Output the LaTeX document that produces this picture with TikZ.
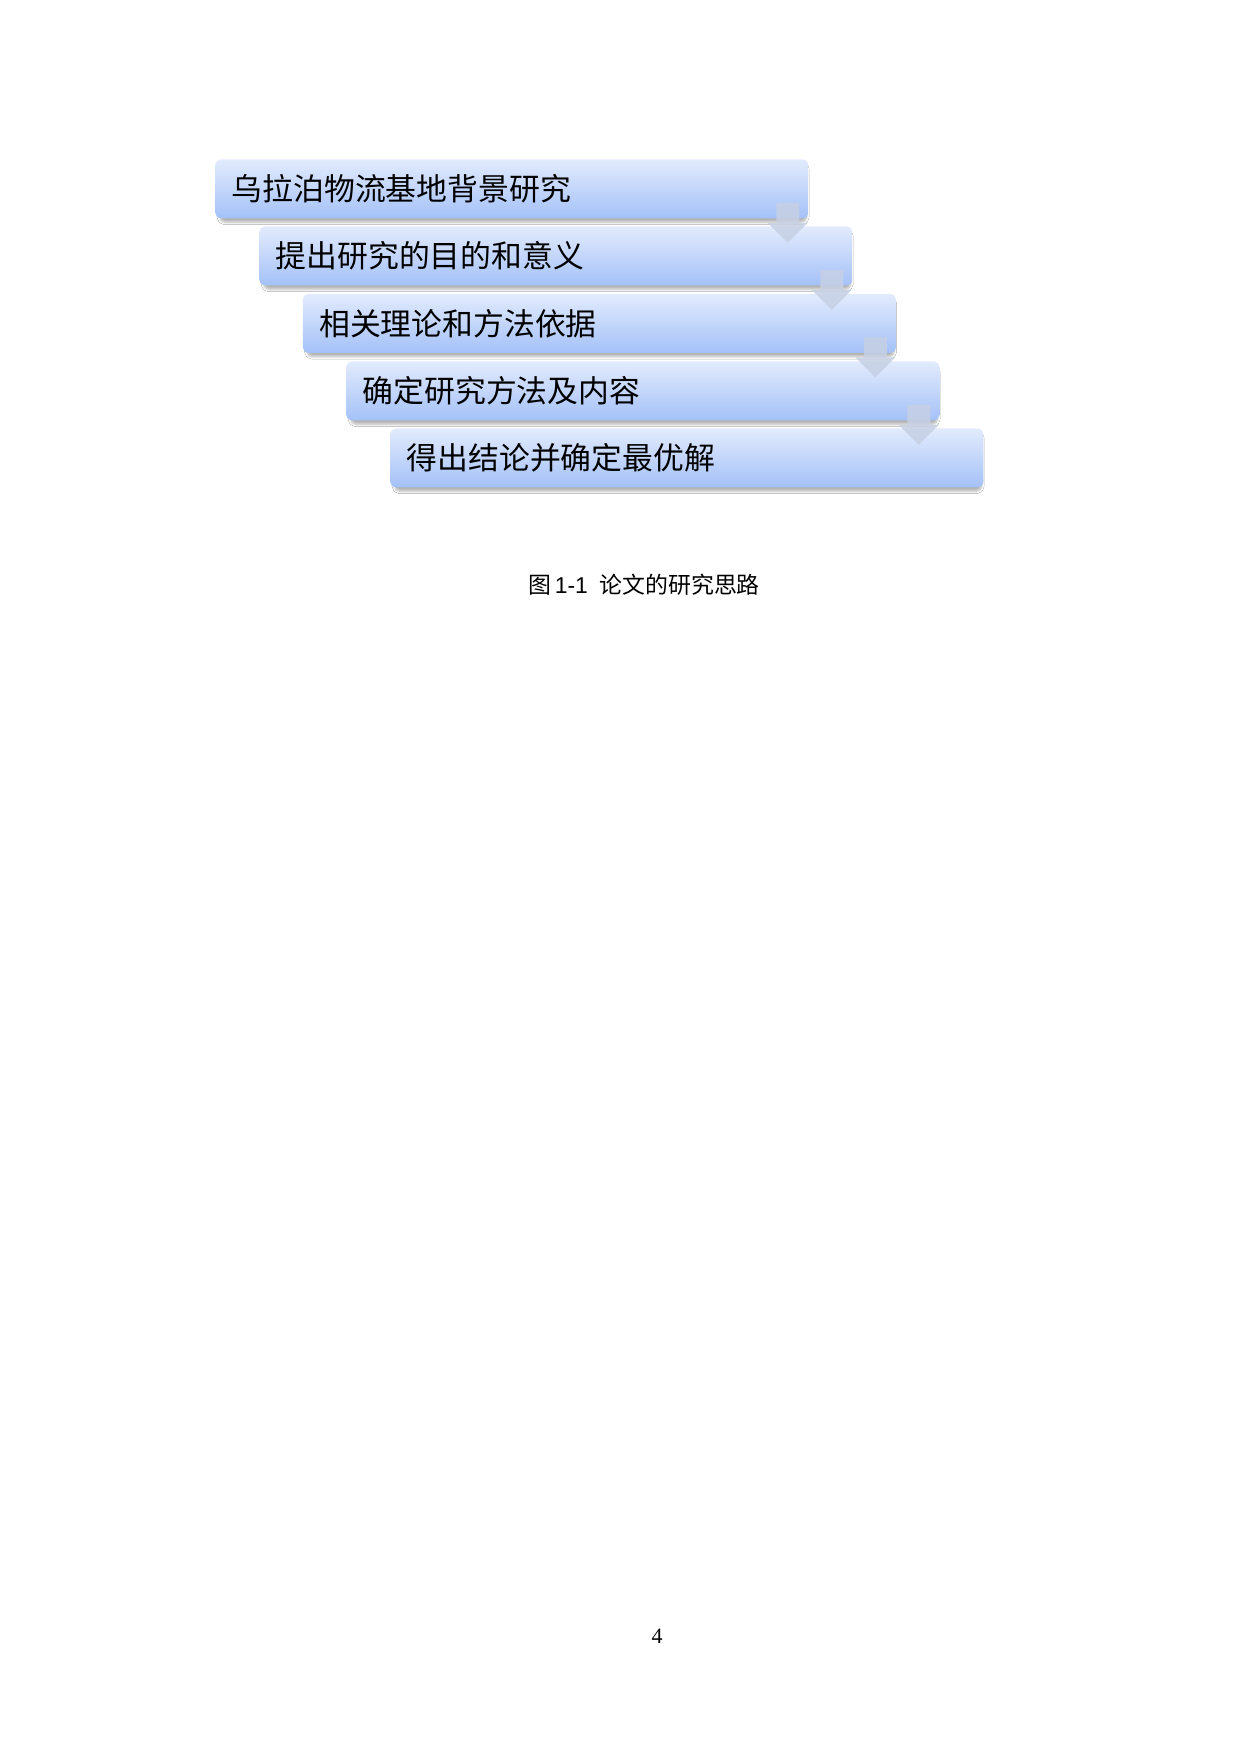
\documentclass[tikz,border=0pt]{standalone}
\usepackage{fontspec}
\setmainfont{Liberation Serif}
\newfontfamily\cjk{Noto Sans CJK SC}
\newfontfamily\capsans{Liberation Sans}
\usetikzlibrary{calc,shadows.blur}
\definecolor{boxtop}{RGB}{226,235,253}
\definecolor{boxbot}{RGB}{164,193,248}
\definecolor{arrowc}{RGB}{198,208,228}
\begin{document}
\begin{tikzpicture}[x=0.48pt,y=-0.48pt,
  stepbox/.style={draw=none, rounded corners=2.5pt, top color=boxtop, bottom color=boxbot,
    minimum width=284.6pt, minimum height=28.3pt, anchor=north west,
    inner sep=0pt, text width=269pt, align=left,
    font=\cjk\fontsize{14.8}{16}\selectfont,
    blur shadow={shadow blur steps=5, shadow blur radius=1.2pt, shadow scale=0.99, shadow xshift=0.6pt, shadow yshift=-2pt, shadow opacity=30}},
  downarrow/.style={fill=arrowc, draw=none, fill opacity=0.85}]
\useasboundingbox (0,0) rectangle (1240,1754);
\fill[white] (0,0) rectangle (1240,1754);
% boxes
\node[stepbox] (b1) at (215,159) {乌拉泊物流基地背景研究};
\node[stepbox] (b2) at (259,226) {提出研究的目的和意义};
\node[stepbox] (b3) at (302.5,293.5) {相关理论和方法依据};
\node[stepbox] (b4) at (346,361) {确定研究方法及内容};
\node[stepbox] (b5) at (390,428) {得出结论并确定最优解};
% arrows between steps
\foreach \i/\j in {1/2,2/3,3/4,4/5}{
  \path[downarrow]
    ($(b\i.south east)+(-32.5,-16)$) -- ($(b\i.south east)+(-9.5,-16)$)
    -- ($(b\i.south east)+(-9.5,4)$) -- ($(b\i.south east)+(-1,4)$)
    -- ($(b\i.south east)+(-21,24)$) -- ($(b\i.south east)+(-41,4)$)
    -- ($(b\i.south east)+(-32.5,4)$) -- cycle;
}
% caption
\node[font=\fontsize{11}{12}\selectfont, inner sep=0pt] (cap) at (644,585)
  {{\cjk 图}\,{\capsans 1-1}\enspace{\cjk 论文的研究思路}};
% page number
\node[font=\fontsize{10.5}{12}\selectfont, inner sep=0pt] (pg) at (657,1636) {4};
\end{tikzpicture}
\end{document}
